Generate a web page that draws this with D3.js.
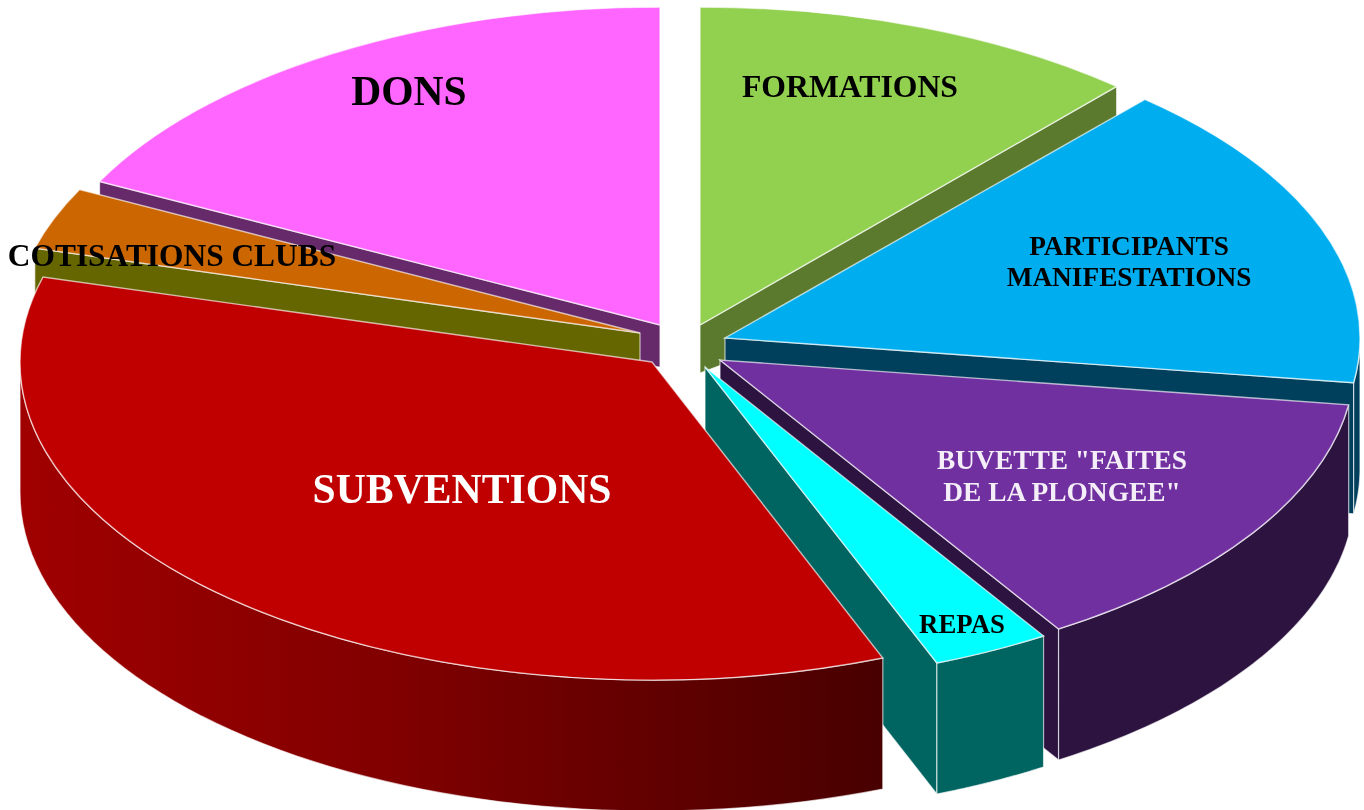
<!DOCTYPE html>
<html>
<head>
<meta charset="utf-8">
<title>Recettes</title>
<script src="https://cdn.jsdelivr.net/npm/d3@7"></script>
<style>
  html, body { margin: 0; padding: 0; background: #fff; }
  svg { display: block; }
  text { font-family: "Liberation Serif", serif; font-weight: bold; text-anchor: middle; }
</style>
</head>
<body>
<script>
// Values, clockwise from 12 o'clock (percent)
const categories = ["FORMATIONS", "PARTICIPANTS MANIFESTATIONS", 'BUVETTE "FAITES DE LA PLONGEE"', "REPAS", "SUBVENTIONS", "COTISATIONS CLUBS", "DONS"];
const values = [11.5, 15.75, 13.8, 3.0, 35.25, 3.15, 17.55];

const topColors = ["#92d050", "#00aeef", "#7030a0", "#00ffff", "#c00000", "#cc6600", "#ff66ff"];
const wallColors = ["#5b7a2e", "#00405c", "#2c1340", "#006461", "#480000", "#666600", "#662a6b"];

// Where each slice's tip sits once pulled out of the pie
const tipX = [700, 725, 720, 705, 652, 640, 660];
const tipY = [325, 338, 360, 367, 362, 333, 325];
// Inner edge height of the side walls, perspective makes the two back ones short
const tipDepth = [48, 131, 131, 131, 131, 131, 42];
// Perspective also squeezes the left and back slices a little
const radiiX = [630, 635, 635, 635, 632, 628, 628];

const labelLines = [["FORMATIONS"], ["PARTICIPANTS", "MANIFESTATIONS"], ['BUVETTE "FAITES', 'DE LA PLONGEE"'], ["REPAS"], ["SUBVENTIONS"], ["COTISATIONS CLUBS"], ["DONS"]];
const labelX = [850, 1129, 1062, 962, 462, 172, 409];
const labelY = [97, 255, 469, 633, 503, 266, 105];
const labelSize = [31.7, 27.3, 27.4, 26.8, 41.7, 31.4, 41.5];
const labelColor = ["#000", "#000", "#f4eef8", "#000", "#fff", "#000", "#000"];

const width = 1364;
const height = 810;
const radiusY = 318;
const depth = 131;

const svg = d3.select("body").append("svg")
  .attr("width", width)
  .attr("height", height)
  .style("filter", "blur(0.5px)");

const defs = svg.append("defs");

// Red rim goes dark from left to right
const redGradient = defs.append("linearGradient")
  .attr("id", "redRim")
  .attr("gradientUnits", "userSpaceOnUse")
  .attr("x1", 20).attr("x2", 884)
  .attr("y1", 0).attr("y2", 0);
redGradient.append("stop").attr("offset", 0).attr("stop-color", "#a00000");
redGradient.append("stop").attr("offset", 0.44).attr("stop-color", "#800000");
redGradient.append("stop").attr("offset", 0.67).attr("stop-color", "#680000");
redGradient.append("stop").attr("offset", 1).attr("stop-color", wallColors[4]);

const pie = d3.pie().sort(null);
const slices = pie(values).map((d, i) => ({ ...d, i }));

const arc = d3.arc()
  .innerRadius(0)
  .outerRadius((d) => radiiX[d.i]);

const rimPoint = (d, a) => [
  tipX[d.i] + radiiX[d.i] * Math.sin(a),
  tipY[d.i] - radiusY * Math.cos(a),
];

const edgeStroke = "rgba(255,255,255,0.65)";

function drawRadialWall(g, d, a) {
  const p = rimPoint(d, a);
  const tip = [tipX[d.i], tipY[d.i]];
  g.append("path")
    .attr("d", d3.line()([tip, p, [p[0], p[1] + depth], [tip[0], tip[1] + tipDepth[d.i]]]) + "Z")
    .attr("fill", wallColors[d.i])
    .attr("stroke", edgeStroke)
    .attr("stroke-width", 1.2);
}

function drawRim(g, d) {
  // only the part facing the viewer, between 3 and 9 o'clock
  const from = Math.max(d.startAngle, Math.PI / 2);
  const to = Math.min(d.endAngle, (Math.PI * 3) / 2);
  if (from >= to) return;

  const angles = d3.range(0, 61).map((k) => from + ((to - from) * k) / 60);
  const rim = d3.area()
    .x((a) => rimPoint(d, a)[0])
    .y0((a) => rimPoint(d, a)[1])
    .y1((a) => rimPoint(d, a)[1] + depth);

  g.append("path")
    .attr("d", rim(angles))
    .attr("fill", d.i === 4 ? "url(#redRim)" : wallColors[d.i])
    .attr("stroke", edgeStroke)
    .attr("stroke-width", 1.2);
}

// Back slices first, the big red one has to end up on top of everything
const drawOrder = [0, 6, 1, 5, 2, 3, 4];

drawOrder.forEach((i) => {
  const d = slices[i];
  const g = svg.append("g").attr("class", "slice");

  // A cut face only shows when the slice lies above it
  if (d.startAngle > Math.PI) drawRadialWall(g, d, d.startAngle);
  if (d.endAngle < Math.PI) drawRadialWall(g, d, d.endAngle);
  drawRim(g, d);

  g.append("path")
    .attr("d", arc(d))
    .attr("transform", `translate(${tipX[i]},${tipY[i]}) scale(1,${radiusY / radiiX[i]})`)
    .attr("fill", topColors[i])
    .attr("stroke", edgeStroke)
    .attr("stroke-width", 1.4)
    .attr("vector-effect", "non-scaling-stroke");
});

// Labels
categories.forEach((name, i) => {
  const label = svg.append("text")
    .attr("x", labelX[i])
    .attr("y", labelY[i])
    .attr("font-size", labelSize[i])
    .attr("fill", labelColor[i])
    .attr("aria-label", name);

  labelLines[i].forEach((line, k) => {
    label.append("tspan")
      .attr("x", labelX[i])
      .attr("dy", k === 0 ? 0 : labelSize[i] * 1.15)
      .text(line);
  });
});
</script>
</body>
</html>
